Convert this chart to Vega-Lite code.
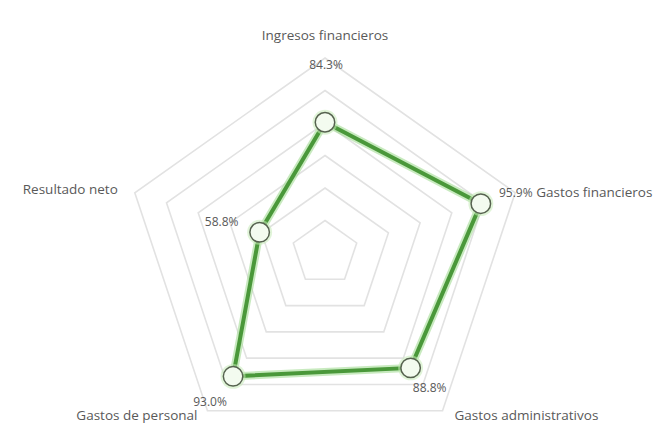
{
  "$schema": "https://vega.github.io/schema/vega-lite/v6.json",
  "width": 660,
  "height": 426,
  "padding": 0,
  "autosize": {"type": "none"},
  "background": "white",
  "config": {"view": {"stroke": null}, "font": "Open Sans", "text": {"font": "Open Sans", "fontSize": 12, "color": "#595959", "baseline": "middle"}},
  "datasets": {
    "pts": [
      {"axis": "Ingresos financieros", "i": 0, "value": 0.843},
      {"axis": "Gastos financieros", "i": 1, "value": 0.959},
      {"axis": "Gastos administrativos", "i": 2, "value": 0.888},
      {"axis": "Gastos de personal", "i": 3, "value": 0.930},
      {"axis": "Resultado neto", "i": 4, "value": 0.588}
    ],
    "rings": [
      {"ring": 1, "i": [0, 1, 2, 3, 4]},
      {"ring": 2, "i": [0, 1, 2, 3, 4]},
      {"ring": 3, "i": [0, 1, 2, 3, 4]},
      {"ring": 4, "i": [0, 1, 2, 3, 4]},
      {"ring": 5, "i": [0, 1, 2, 3, 4]},
      {"ring": 6, "i": [0, 1, 2, 3, 4]}
    ]
  },
  "encoding": {
    "x": {"field": "x", "type": "quantitative", "scale": {"domain": [-1.625, 1.675], "nice": false, "zero": false}, "axis": null},
    "y": {"field": "y", "type": "quantitative", "scale": {"domain": [-0.8872, 1.2974], "nice": false, "zero": false}, "axis": null}
  },
  "layer": [
    {
      "data": {"name": "rings"},
      "transform": [
        {"flatten": ["i"]},
        {"calculate": "datum.ring / 6", "as": "r"},
        {"calculate": "datum.r * sin(datum.i * 2 * PI / 5)", "as": "x"},
        {"calculate": "datum.r * cos(datum.i * 2 * PI / 5)", "as": "y"}
      ],
      "mark": {"type": "line", "interpolate": "linear-closed", "stroke": "#e2e2e2", "strokeWidth": 1.6},
      "encoding": {
        "detail": {"field": "ring", "type": "nominal"},
        "order": {"field": "i", "type": "quantitative"}
      }
    },
    {
      "data": {"name": "pts"},
      "transform": [
        {"calculate": "(datum.value - 0.32) / 0.78", "as": "r"},
        {"calculate": "datum.r * sin(datum.i * 2 * PI / 5)", "as": "x"},
        {"calculate": "datum.r * cos(datum.i * 2 * PI / 5)", "as": "y"},
        {"calculate": "sin(datum.i * 2 * PI / 5)", "as": "vx"},
        {"calculate": "cos(datum.i * 2 * PI / 5)", "as": "vy"}
      ],
      "layer": [
        {
          "mark": {"type": "line", "interpolate": "linear-closed", "stroke": "#9ad88a", "strokeWidth": 8, "opacity": 0.55},
          "encoding": {"order": {"field": "i", "type": "quantitative"}}
        },
        {
          "mark": {"type": "line", "interpolate": "linear-closed", "stroke": "#4a983a", "strokeWidth": 4},
          "encoding": {"order": {"field": "i", "type": "quantitative"}}
        },
        {
          "mark": {"type": "point", "filled": true, "shape": "circle", "size": 620, "fill": "#c6ebb8", "opacity": 0.55},
          "encoding": {}
        },
        {
          "mark": {"type": "point", "filled": true, "shape": "circle", "size": 380, "fill": "#f3fbef", "stroke": "#56624f", "strokeWidth": 1.5, "opacity": 1},
          "encoding": {}
        },
        {
          "transform": [{"filter": "datum.i == 0"}],
          "mark": {"type": "text", "align": "center", "dx": 1, "dy": -57},
          "encoding": {"text": {"field": "value", "type": "quantitative", "format": ".1%"}}
        },
        {
          "transform": [{"filter": "datum.i == 1"}],
          "mark": {"type": "text", "align": "center", "dx": 35, "dy": -11},
          "encoding": {"text": {"field": "value", "type": "quantitative", "format": ".1%"}}
        },
        {
          "transform": [{"filter": "datum.i == 2"}],
          "mark": {"type": "text", "align": "center", "dx": 19, "dy": 20},
          "encoding": {"text": {"field": "value", "type": "quantitative", "format": ".1%"}}
        },
        {
          "transform": [{"filter": "datum.i == 3"}],
          "mark": {"type": "text", "align": "center", "dx": -23, "dy": 26},
          "encoding": {"text": {"field": "value", "type": "quantitative", "format": ".1%"}}
        },
        {
          "transform": [{"filter": "datum.i == 4"}],
          "mark": {"type": "text", "align": "center", "dx": -38, "dy": -10},
          "encoding": {"text": {"field": "value", "type": "quantitative", "format": ".1%"}}
        },
        {
          "transform": [{"filter": "datum.i == 0"}],
          "mark": {"type": "text", "align": "center", "dy": -22, "fontSize": 13.5},
          "encoding": {"x": {"field": "vx", "type": "quantitative"}, "y": {"field": "vy", "type": "quantitative"}, "text": {"field": "axis", "type": "nominal"}}
        },
        {
          "transform": [{"filter": "datum.i == 1"}],
          "mark": {"type": "text", "align": "left", "dx": 21, "dy": 0, "fontSize": 13.5},
          "encoding": {"x": {"field": "vx", "type": "quantitative"}, "y": {"field": "vy", "type": "quantitative"}, "text": {"field": "axis", "type": "nominal"}}
        },
        {
          "transform": [{"filter": "datum.i == 2"}],
          "mark": {"type": "text", "align": "left", "dx": 12, "dy": 5, "fontSize": 13.5},
          "encoding": {"x": {"field": "vx", "type": "quantitative"}, "y": {"field": "vy", "type": "quantitative"}, "text": {"field": "axis", "type": "nominal"}}
        },
        {
          "transform": [{"filter": "datum.i == 3"}],
          "mark": {"type": "text", "align": "right", "dx": -10, "dy": 5, "fontSize": 13.5},
          "encoding": {"x": {"field": "vx", "type": "quantitative"}, "y": {"field": "vy", "type": "quantitative"}, "text": {"field": "axis", "type": "nominal"}}
        },
        {
          "transform": [{"filter": "datum.i == 4"}],
          "mark": {"type": "text", "align": "right", "dx": -17, "dy": -3, "fontSize": 13.5},
          "encoding": {"x": {"field": "vx", "type": "quantitative"}, "y": {"field": "vy", "type": "quantitative"}, "text": {"field": "axis", "type": "nominal"}}
        }
      ]
    }
  ]
}
